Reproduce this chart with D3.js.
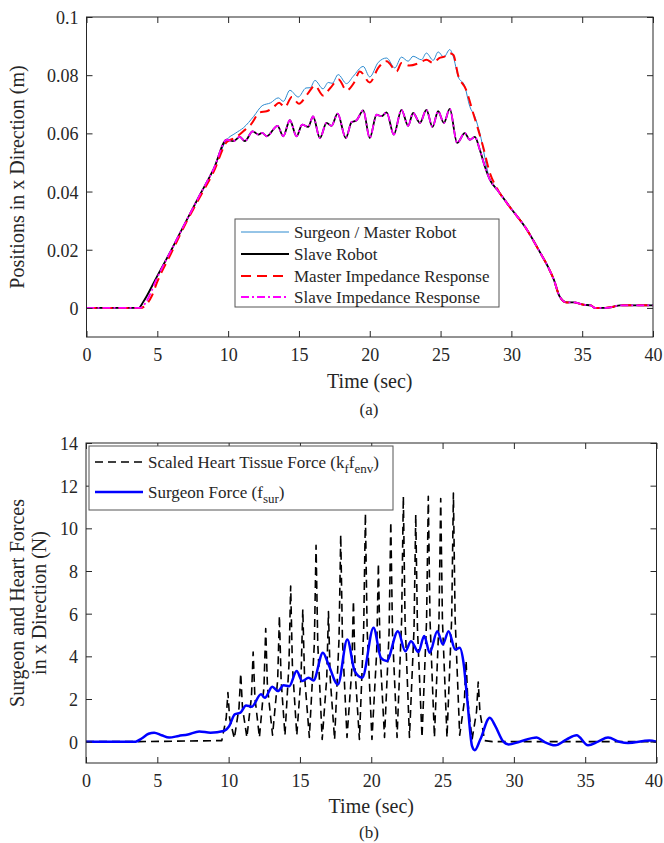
<!DOCTYPE html>
<html>
<head>
<meta charset="utf-8">
<script src="https://cdn.jsdelivr.net/npm/d3@7"></script>
<style>
  body { margin: 0; background: #fff; }
  svg text { font-family: "Liberation Serif", "Times New Roman", Times, "DejaVu Serif", serif !important; fill: #262626; }
</style>
</head>
<body>
<svg id="chart" width="664" height="843"></svg>
<script>
// ---- data ----
var timeTicks = [0, 5, 10, 15, 20, 25, 30, 35, 40];
var posTicks = [0, 0.02, 0.04, 0.06, 0.08, 0.1];
var forceTicks = [0, 2, 4, 6, 8, 10, 12, 14];

// [time (s), position (m)]
var surgeonPos = [[0,0],[3.7,0],[4,0.002],[5,0.011],[6,0.020],[7,0.0295],[8,0.0388],[9,0.048],[9.9,0.0578],
  [10.5,0.060],[11.1,0.062],[11.8,0.0658],[12.4,0.0695],[13.0,0.0705],[13.54,0.0722],[13.9,0.0710],[14.36,0.0748],
  [14.95,0.0725],[15.5,0.0756],[15.8,0.0757],[16.13,0.0782],[16.7,0.0753],[17.07,0.0775],[17.35,0.0772],[17.77,0.0802],
  [18.36,0.0771],[18.83,0.0796],[19.54,0.0830],[20.0,0.0794],[20.6,0.0844],[21.19,0.0859],[21.77,0.0825],[22.24,0.0862],
  [22.71,0.0848],[23.06,0.0865],[23.65,0.0853],[24.0,0.0876],[24.48,0.0851],[24.83,0.0880],[25.23,0.0862],[25.65,0.0888],
  [25.89,0.0865],[26.24,0.0796],[26.71,0.0762],[27.06,0.0693],[27.42,0.0658],[27.77,0.0601],[28.48,0.0441],[29,0.0406],
  [30,0.034],[31,0.0276],[32,0.0193],[32.6,0.014],[33,0.0097],[33.4,0.004],[33.9,0.0019],[34.4,0.0019],[35.1,0.0011],
  [35.6,0.0009],[35.9,0],[36.5,0],[37,0.0002],[37.7,0.0009],[40,0.0009]];

var slavePos = [[0,0],[3.7,0],[4,0.002],[5,0.011],[6,0.020],[7,0.0295],[8,0.0388],[9,0.048],[9.9,0.0578],
  [10.36,0.0573],[10.83,0.0588],[11.18,0.0573],[11.73,0.0607],[12.13,0.0596],[12.4,0.0602],[12.72,0.0590],[13.49,0.0626],
  [13.89,0.0590],[14.36,0.0645],[14.83,0.0590],[15.23,0.0630],[15.65,0.0622],[16.0,0.0658],[16.48,0.0584],[16.95,0.0636],
  [17.3,0.0626],[17.73,0.0668],[18.31,0.0584],[18.71,0.0638],[19.07,0.0645],[19.54,0.0679],[20.0,0.0584],[20.48,0.0664],
  [20.83,0.0659],[21.19,0.0672],[21.7,0.0596],[22.24,0.0681],[22.71,0.0626],[23.06,0.0670],[23.54,0.0636],[24.0,0.0681],
  [24.43,0.0622],[24.83,0.0676],[25.23,0.0636],[25.65,0.0684],[26.17,0.0567],[26.71,0.0601],[27.06,0.0578],[27.42,0.0588],
  [27.77,0.0544],[28.12,0.0487],[28.48,0.0441],[29,0.0406],[30,0.034],[31,0.0276],[32,0.0193],[32.6,0.014],[33,0.0097],
  [33.4,0.004],[33.9,0.0019],[34.4,0.0019],[35.1,0.0011],[35.6,0.0009],[35.9,0],[36.5,0],[37,0.0002],[37.7,0.0009],[40,0.0009]];

var masterImpPos = [[0,0],[3.8,0],[4.2,0.001],[4.6,0.004],[5,0.009],[6,0.019],[7,0.029],[8,0.038],[9,0.047],[9.9,0.057],
  [10.5,0.0585],[11.07,0.0607],[11.6,0.063],[12.24,0.0672],[12.72,0.0676],[13.2,0.069],[13.6,0.0705],[14.0,0.069],
  [14.5,0.0725],[15.0,0.0702],[15.6,0.0735],[16.13,0.0764],[16.7,0.073],[17.2,0.0755],[17.8,0.0785],[18.36,0.0748],
  [18.9,0.0775],[19.3,0.0813],[20.0,0.0775],[20.6,0.0825],[21.19,0.0848],[21.9,0.0813],[22.24,0.0842],[22.8,0.0833],
  [23.5,0.0842],[24.0,0.0853],[24.48,0.0842],[24.9,0.0859],[25.3,0.0865],[25.6,0.0876],[25.9,0.087],[26.24,0.0800],
  [26.8,0.075],[27.3,0.067],[28.0,0.0555],[28.48,0.0464],[29,0.041],[30,0.034],[31,0.0276],[32,0.0193],[32.6,0.014],
  [33,0.0097],[33.4,0.004],[33.9,0.0019],[34.4,0.0019],[35.1,0.0011],[35.6,0.0009],[35.9,0],[36.5,0],[37,0.0002],
  [37.7,0.0009],[40,0.0009]];

var slaveImpPos = [[0,0],[3.8,0],[4.2,0.002],[5,0.0105],[6,0.020],[7,0.0295],[8,0.0388],[9,0.048],[9.9,0.0578],
  [10.36,0.0573],[10.83,0.0588],[11.18,0.0573],[11.73,0.0607],[12.13,0.0596],[12.4,0.0602],[12.72,0.0590],[13.49,0.0626],
  [13.89,0.0590],[14.36,0.0645],[14.83,0.0590],[15.23,0.0630],[15.65,0.0622],[16.0,0.0658],[16.48,0.0584],[16.95,0.0636],
  [17.3,0.0626],[17.73,0.0668],[18.31,0.0584],[18.71,0.0638],[19.07,0.0645],[19.54,0.0679],[20.0,0.0584],[20.48,0.0664],
  [20.83,0.0659],[21.19,0.0672],[21.7,0.0596],[22.24,0.0681],[22.71,0.0626],[23.06,0.0670],[23.54,0.0636],[24.0,0.0681],
  [24.43,0.0622],[24.83,0.0676],[25.23,0.0636],[25.65,0.0684],[26.17,0.0567],[26.71,0.0601],[27.06,0.0578],[27.42,0.0588],
  [27.77,0.0544],[28.12,0.0487],[28.48,0.0441],[29,0.0406],[30,0.034],[31,0.0276],[32,0.0193],[32.6,0.014],[33,0.0097],
  [33.4,0.004],[33.9,0.0019],[34.4,0.0019],[35.1,0.0011],[35.6,0.0009],[35.9,0],[36.5,0],[37,0.0002],[37.7,0.0009],[40,0.0009]];

// [time (s), force (N)]
var tissueForce = [[0,0],[3.6,0],[9.52,0.05],[9.83,1.1],[9.95,2.3],[10.07,1.1],
  [10.4,0.15],[10.73,1.6],[10.85,3.2],[10.97,1.6],
  [11.28,0.2],[11.6,2.1],[11.72,4.2],[11.84,2.1],
  [12.16,0.2],[12.48,2.6],[12.6,5.3],[12.72,2.6],
  [13.08,0.3],[13.44,2.9],[13.56,5.9],[13.68,2.9],
  [13.95,0.3],[14.23,3.6],[14.35,7.3],[14.47,3.6],
  [14.78,0.3],[15.08,3.1],[15.2,6.2],[15.32,3.1],
  [15.66,0.2],[16.01,4.6],[16.13,9.2],[16.25,4.6],
  [16.56,0.1],[16.88,3.0],[17.0,6.1],[17.12,3.0],
  [17.43,0.1],[17.74,4.8],[17.86,9.7],[17.98,4.8],
  [18.3,0.2],[18.63,3.3],[18.75,6.6],[18.87,3.3],
  [19.17,0.1],[19.47,5.3],[19.59,10.7],[19.71,5.3],
  [20.05,0.1],[20.38,4.2],[20.5,8.35],[20.62,4.2],
  [20.93,0.2],[21.25,5.1],[21.37,10.3],[21.49,5.1],
  [21.81,0.2],[22.13,5.7],[22.25,11.5],[22.37,5.7],
  [22.68,0.2],[23.0,5.3],[23.12,10.65],[23.24,5.3],
  [23.56,0.2],[23.88,5.7],[24.0,11.5],[24.12,5.7],
  [24.43,0.2],[24.75,5.7],[24.87,11.4],[24.99,5.7],
  [25.31,0.2],[25.64,5.8],[25.76,11.65],[25.88,5.8],
  [26.2,0.3],[26.53,1.9],[26.65,3.8],[26.77,1.9],
  [27.07,0.1],[27.38,1.4],[27.5,2.8],[27.62,1.4],
  [27.95,0.05],[28.5,0],[40,0]];

var surgeonForce = [[0,0],[3.47,0],[3.9,0.15],[4.39,0.37],[4.78,0.42],[5.3,0.3],[5.83,0.19],[6.5,0.27],[7.15,0.34],
  [7.94,0.48],[8.73,0.42],[9.65,0.5],[10.04,0.73],[10.43,1.28],[10.83,1.36],[11.22,1.70],[11.62,1.64],[12.27,2.22],
  [12.54,2.06],[13.06,2.58],[13.46,2.37],[13.85,2.64],[14.25,2.60],[14.77,3.31],[15.16,2.84],[15.61,3.0],[15.95,2.87],
  [16.61,4.17],[17.0,3.62],[17.66,2.68],[18.32,4.79],[18.84,3.31],[19.37,3.0],[20.16,5.34],[20.68,3.93],[21.08,3.78],
  [21.87,5.18],[22.39,4.24],[22.79,4.71],[23.31,4.20],[23.71,4.95],[24.1,4.17],[24.63,5.18],[25.02,4.56],[25.42,5.18],
  [25.89,4.32],[26.2,4.40],[26.47,3.70],[26.73,1.98],[27.07,-0.21],[27.26,-0.4],[27.65,0.11],[28.31,1.12],[28.7,0.73],
  [29.23,0.03],[29.62,-0.13],[30.4,0],[31.6,0.19],[32.1,0],[32.9,-0.17],[33.7,0.11],[34.4,0.3],[35.2,-0.17],[35.9,0],
  [36.6,0.19],[37.4,0],[38.0,-0.06],[39.5,0.05],[40,0]];

var svg = d3.select("#chart");
var axisColor = "#262626";
var serif = "'Liberation Serif', 'Times New Roman', Times, 'DejaVu Serif', serif";

function drawPanel(cfg) {
  var x = d3.scaleLinear().domain([0, 40]).range([cfg.left, cfg.right]);
  var y = d3.scaleLinear().domain(cfg.yDomain).range([cfg.bottom, cfg.top]);
  var g = svg.append("g").attr("font-family", serif);

  var clipId = "clip" + cfg.id;
  svg.append("clipPath").attr("id", clipId).append("rect")
     .attr("x", cfg.left).attr("y", cfg.top)
     .attr("width", cfg.right - cfg.left).attr("height", cfg.bottom - cfg.top);

  var lines = g.append("g").attr("clip-path", "url(#" + clipId + ")");
  cfg.series.forEach(function(s) {
    var line = d3.line().x(function(d) { return x(d[0]); }).y(function(d) { return y(d[1]); })
                 .curve(s.curve || d3.curveMonotoneX);
    lines.append("path").datum(s.data)
      .attr("d", line).attr("fill", "none")
      .attr("stroke", s.color).attr("stroke-width", s.width)
      .attr("stroke-dasharray", s.dash || null)
      .attr("stroke-linejoin", "round");
  });

  // axes with inward ticks
  var bottomAx = g.append("g").attr("transform", "translate(0," + cfg.bottom + ")")
    .call(d3.axisBottom(x).tickValues(timeTicks).tickSizeInner(-6).tickSizeOuter(0).tickPadding(11));
  var topAx = g.append("g").attr("transform", "translate(0," + cfg.top + ")")
    .call(d3.axisTop(x).tickValues(timeTicks).tickSizeInner(-6).tickSizeOuter(0).tickFormat(""));
  var leftAx = g.append("g").attr("transform", "translate(" + cfg.left + ",0)")
    .call(d3.axisLeft(y).tickValues(cfg.yTicks).tickSizeInner(-6).tickSizeOuter(0).tickPadding(8)
      .tickFormat(function(d) { return String(d); }));
  var rightAx = g.append("g").attr("transform", "translate(" + cfg.right + ",0)")
    .call(d3.axisRight(y).tickValues(cfg.yTicks).tickSizeInner(-6).tickSizeOuter(0).tickFormat(""));

  [bottomAx, topAx, leftAx, rightAx].forEach(function(a) {
    a.attr("font-family", serif);
    a.select(".domain").remove();
    a.selectAll("line").attr("stroke", axisColor);
    a.selectAll("text").attr("font-size", 18).attr("fill", axisColor);
  });
  leftAx.selectAll("text").attr("dy", "0.36em");
  // keep the last time label inside the page edge
  bottomAx.selectAll(".tick text").filter(function(d) { return d === 40; })
    .attr("dx", cfg.lastLabelShift);

  g.append("rect").attr("x", cfg.left).attr("y", cfg.top)
    .attr("width", cfg.right - cfg.left).attr("height", cfg.bottom - cfg.top)
    .attr("fill", "none").attr("stroke", axisColor).attr("stroke-width", 1);

  g.append("text").attr("x", (cfg.left + cfg.right) / 2).attr("y", cfg.xLabelY)
    .attr("text-anchor", "middle").attr("font-size", 20).text("Time (sec)");

  cfg.yLabel.forEach(function(txt, i) {
    g.append("text")
      .attr("transform", "translate(" + cfg.yLabelX[i] + "," + (cfg.top + cfg.bottom) / 2 + ") rotate(-90)")
      .attr("text-anchor", "middle").attr("font-size", 20).text(txt);
  });

  g.append("text").attr("x", 369).attr("y", cfg.captionY)
    .attr("text-anchor", "middle").attr("font-size", 17).text(cfg.caption);

  // legend
  var L = cfg.legend;
  g.append("rect").attr("x", L.x).attr("y", L.y).attr("width", L.w).attr("height", L.h)
    .attr("fill", "#fff").attr("stroke", "#555").attr("stroke-width", 1);
  L.rows.forEach(function(r, i) {
    var ry = L.rowY[i];
    var s = cfg.series[r.series];
    g.append("line").attr("x1", L.x + 6).attr("x2", L.x + 54).attr("y1", ry).attr("y2", ry)
      .attr("stroke", s.color).attr("stroke-width", s.width).attr("stroke-dasharray", s.dash || null);
    var t = g.append("text").attr("x", L.x + 59).attr("y", ry + 6).attr("font-size", 17);
    r.parts.forEach(function(p) {
      var ts = t.append("tspan").text(p[0]);
      if (p[1] === "sub") ts.attr("font-size", 13).attr("dy", 5);
      if (p[1] === "up") ts.attr("dy", -5);
    });
  });
}

drawPanel({
  id: "a", left: 86.5, right: 653, top: 17, bottom: 337,
  yDomain: [-0.01, 0.1], yTicks: posTicks, lastLabelShift: 0,
  xLabelY: 388, captionY: 415, caption: "(a)",
  yLabel: ["Positions in x Direction (m)"], yLabelX: [24],
  series: [
    { data: surgeonPos, color: "#2d8acf", width: 1 },
    { data: slavePos, color: "#000000", width: 1.8 },
    { data: masterImpPos, color: "#ff0000", width: 2, dash: "10,6" },
    { data: slaveImpPos, color: "#ff00ff", width: 1.8, dash: "8,3,2,3" }
  ],
  legend: { x: 235, y: 219, w: 264, h: 88, rowY: [232, 254, 276, 297],
    rows: [
      { series: 0, parts: [["Surgeon / Master Robot"]] },
      { series: 1, parts: [["Slave Robot"]] },
      { series: 2, parts: [["Master Impedance Response"]] },
      { series: 3, parts: [["Slave Impedance Response"]] }
    ] }
});

drawPanel({
  id: "b", left: 86, right: 656.5, top: 443, bottom: 763,
  yDomain: [-1, 14], yTicks: forceTicks, lastLabelShift: -3,
  xLabelY: 813, captionY: 838, caption: "(b)",
  yLabel: ["Surgeon and Heart Forces", "in x Direction (N)"], yLabelX: [24, 46],
  series: [
    { data: tissueForce, color: "#000000", width: 1.6, dash: "8,5", curve: d3.curveLinear },
    { data: surgeonForce, color: "#0000ff", width: 2.5 }
  ],
  legend: { x: 89, y: 446, w: 304, h: 64, rowY: [462, 492],
    rows: [
      { series: 0, parts: [["Scaled Heart Tissue Force (k"], ["f", "sub"], ["f", "up"], ["env", "sub"], [")", "up"]] },
      { series: 1, parts: [["Surgeon Force (f"], ["sur", "sub"], [")", "up"]] }
    ] }
});
</script>
</body>
</html>
